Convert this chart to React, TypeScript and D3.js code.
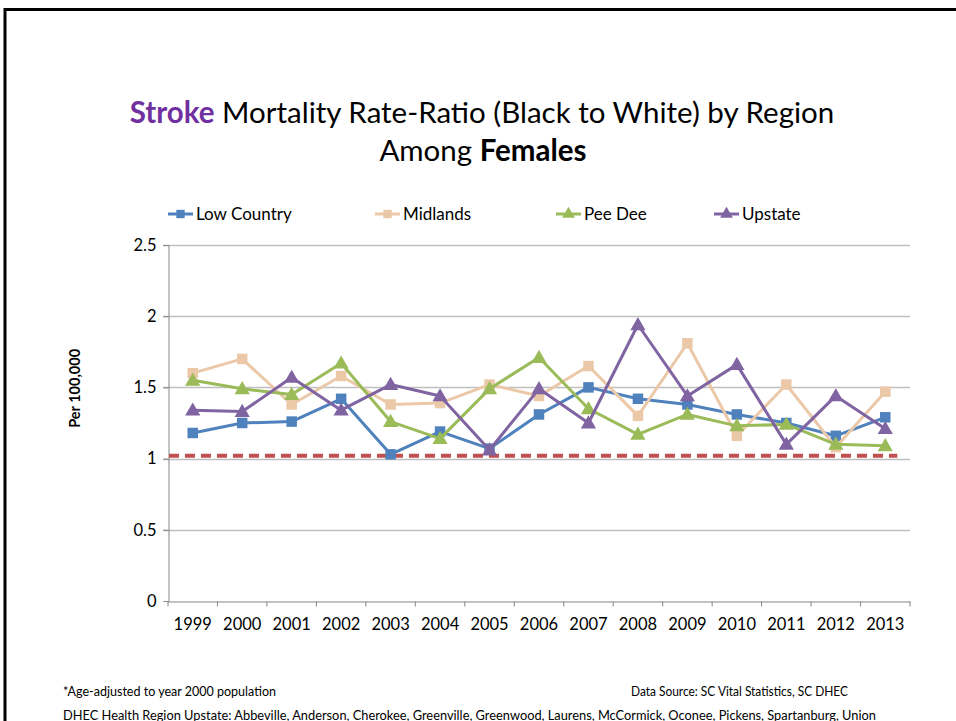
import React, { useEffect, useRef } from "react";
import * as d3 from "d3";

const years = ["1999", "2000", "2001", "2002", "2003", "2004", "2005", "2006", "2007", "2008", "2009", "2010", "2011", "2012", "2013"];
const lowCountry = [1.18, 1.25, 1.26, 1.42, 1.03, 1.19, 1.07, 1.31, 1.5, 1.42, 1.38, 1.31, 1.25, 1.16, 1.29];
const midlands = [1.6, 1.7, 1.38, 1.58, 1.38, 1.39, 1.52, 1.44, 1.65, 1.3, 1.81, 1.16, 1.52, 1.08, 1.47];
const peeDee = [1.55, 1.49, 1.45, 1.67, 1.26, 1.14, 1.49, 1.71, 1.35, 1.17, 1.31, 1.23, 1.24, 1.1, 1.09];
const upstate = [1.34, 1.33, 1.57, 1.34, 1.52, 1.44, 1.06, 1.49, 1.25, 1.94, 1.44, 1.66, 1.1, 1.44, 1.21];
const yTicks = [0, 0.5, 1, 1.5, 2, 2.5];
const refValue = 1.02;

const series = [
    { name: "Low Country", values: lowCountry, color: "#4F81BD", marker: "square" },
    { name: "Midlands", values: midlands, color: "#EBC8A8", marker: "square" },
    { name: "Pee Dee", values: peeDee, color: "#9BBB59", marker: "triangle" },
    { name: "Upstate", values: upstate, color: "#8064A2", marker: "triangle" },
];

const FONT = "Lato, 'Open Sans', sans-serif";

const App = () => {
    const svgRef = useRef(null);

    useEffect(() => {
        const width = 956;
        const height = 721;
        const margin = { top: 245, right: 46, bottom: 120, left: 168 };

        d3.select(svgRef.current).selectAll("*").remove();
        const svg = d3.select(svgRef.current).attr("width", width).attr("height", height);

        // slide frame
        svg.append("path")
            .attr("d", `M5,${height} V9.5 H${width}`)
            .attr("fill", "none")
            .attr("stroke", "#000")
            .attr("stroke-width", 3);

        // title
        const t1 = svg.append("text")
            .attr("x", 482).attr("y", 123)
            .attr("text-anchor", "middle")
            .style("font-family", FONT).style("font-size", "29.5px");
        t1.append("tspan").attr("fill", "#7030A0").style("font-weight", "bold").text("Stroke");
        t1.append("tspan").attr("fill", "#000").text(" Mortality Rate-Ratio (Black to White) by Region");
        const t2 = svg.append("text")
            .attr("x", 483).attr("y", 161)
            .attr("text-anchor", "middle")
            .style("font-family", FONT).style("font-size", "29.5px");
        t2.append("tspan").text("Among ");
        t2.append("tspan").style("font-weight", "bold").text("Females");

        const x = d3.scaleBand().domain(years).range([margin.left, width - margin.right]);
        const y = d3.scaleLinear().domain([0, 2.5]).range([height - margin.bottom, margin.top]);

        // gridlines
        svg.append("g")
            .selectAll("line")
            .data(yTicks.filter((d) => d > 0))
            .enter()
            .append("line")
            .attr("x1", margin.left - 5)
            .attr("x2", width - margin.right)
            .attr("y1", (d) => Math.round(y(d)) + 0.5)
            .attr("y2", (d) => Math.round(y(d)) + 0.5)
            .attr("stroke", "#BFBFBF")
            .attr("stroke-width", 1.5);

        // y axis
        const yAxis = svg.append("g")
            .attr("transform", `translate(${margin.left + 0.5},0)`)
            .call(d3.axisLeft(y).tickValues(yTicks).tickSize(5).tickFormat(d3.format("")));
        yAxis.select(".domain").attr("stroke", "#868686");
        yAxis.selectAll(".tick line").attr("stroke", "#868686");
        yAxis.selectAll("text")
            .attr("x", -12)
            .style("font-family", FONT).style("font-size", "16.5px").attr("fill", "#000");

        // x axis
        const xAxis = svg.append("g")
            .attr("transform", `translate(0,${Math.round(y(0)) + 0.5})`)
            .call(d3.axisBottom(x).tickSize(0).tickSizeOuter(0));
        xAxis.select(".domain").attr("stroke", "#868686");
        xAxis.selectAll("text")
            .attr("y", 17)
            .style("font-family", FONT).style("font-size", "16.5px").attr("fill", "#000");
        xAxis.selectAll(".bound")
            .data(d3.range(years.length + 1))
            .enter()
            .append("line")
            .attr("x1", (i) => margin.left + i * x.step())
            .attr("x2", (i) => margin.left + i * x.step())
            .attr("y1", 0)
            .attr("y2", 5)
            .attr("stroke", "#868686");

        // y axis title
        svg.append("text")
            .attr("transform", `translate(80,${(y(1) + y(2)) / 2 + 1}) rotate(-90)`)
            .attr("text-anchor", "middle")
            .style("font-family", FONT).style("font-size", "14.5px").style("font-weight", "bold")
            .text("Per 100,000");

        // reference line
        svg.append("line")
            .attr("x1", margin.left + 1)
            .attr("x2", x("2013") + x.bandwidth() / 2 + 12)
            .attr("y1", y(refValue))
            .attr("y2", y(refValue))
            .attr("stroke", "#C0504D")
            .attr("stroke-width", 4)
            .attr("stroke-dasharray", "10,6");

        const cx = (d, i) => x(years[i]) + x.bandwidth() / 2;
        const line = d3.line().x(cx).y((d) => y(d));
        const sq = d3.symbol().type(d3.symbolSquare).size(110);
        const tri = d3.symbol().type(d3.symbolTriangle).size(100);

        series.forEach((s) => {
            svg.append("path")
                .datum(s.values)
                .attr("d", line)
                .attr("fill", "none")
                .attr("stroke", s.color)
                .attr("stroke-width", 3)
                .attr("stroke-linejoin", "round");
            svg.append("g")
                .selectAll("path")
                .data(s.values)
                .enter()
                .append("path")
                .attr("d", s.marker === "square" ? sq : tri)
                .attr("transform", (d, i) => `translate(${cx(d, i)},${y(d) + (s.marker === "triangle" ? 1 : 0)})`)
                .attr("fill", s.color);
        });

        // legend
        const legendX = [168, 375, 556, 714];
        const leg = svg.append("g");
        series.forEach((s, i) => {
            const g = leg.append("g").attr("transform", `translate(${legendX[i]},214)`);
            g.append("line").attr("x1", 0).attr("x2", 25).attr("stroke", s.color).attr("stroke-width", 3);
            g.append("path")
                .attr("d", (s.marker === "square" ? sq.size(70) : tri.size(70))())
                .attr("transform", "translate(12.5,0)")
                .attr("fill", s.color);
            g.append("text")
                .attr("x", 28).attr("y", 5.5)
                .style("font-family", FONT).style("font-size", "17px")
                .text(s.name);
        });

        // footer
        const foot = svg.append("g").style("font-family", FONT).style("font-size", "12.5px");
        foot.append("text").attr("x", 63).attr("y", 696)
            .attr("textLength", 213).attr("lengthAdjust", "spacingAndGlyphs")
            .text("*Age-adjusted to year 2000 population");
        foot.append("text").attr("x", 631).attr("y", 696)
            .attr("textLength", 217).attr("lengthAdjust", "spacingAndGlyphs")
            .text("Data Source: SC Vital Statistics, SC DHEC");
        foot.append("text").attr("x", 63).attr("y", 720)
            .attr("textLength", 813).attr("lengthAdjust", "spacingAndGlyphs")
            .text("DHEC Health Region Upstate: Abbeville, Anderson, Cherokee, Greenville, Greenwood, Laurens, McCormick, Oconee, Pickens, Spartanburg, Union");
    }, []);

    return (
        <div style={{ position: "absolute", left: 0, top: 0, width: 956, height: 721, overflow: "hidden", background: "#fff" }}>
            <svg ref={svgRef}></svg>
        </div>
    );
};

export default App;
